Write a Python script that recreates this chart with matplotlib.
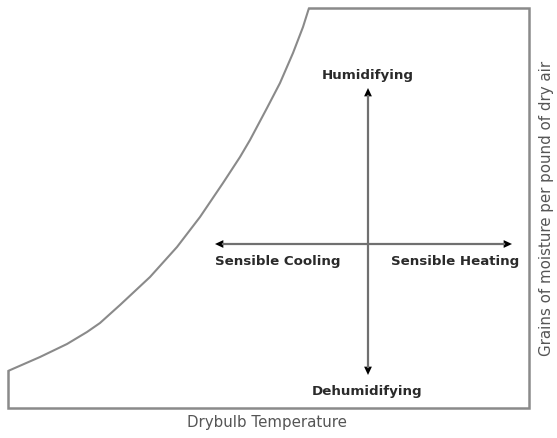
import matplotlib.pyplot as plt
from matplotlib.patches import FancyArrowPatch

# outline of the chart in pixel units (y grows downward)
curve_x = [8, 40, 67, 87, 100, 120, 150, 177, 200, 223, 240, 250, 267, 280, 293, 303, 309]
curve_y = [371, 357, 344, 332, 323, 305, 277, 247, 217, 183, 157, 140, 108, 83, 53, 27, 8]
box_x = [309, 529, 529, 8, 8]
box_y = [8, 8, 408, 408, 371]

# process arrows
h_arrow = (215, 512, 244)   # x start, x end, y
v_arrow = (375, 88, 368)    # y start, y end, x

labels = ["Humidifying", "Sensible Cooling", "Sensible Heating", "Dehumidifying"]
label_pos = [(368, 75), (278, 261), (455, 261), (367, 392)]

x_label = "Drybulb Temperature"
y_label = "Grains of moisture per pound of dry air"

fig = plt.figure(figsize=(5.57, 4.38), dpi=100)
ax = fig.add_axes([0, 0, 1, 1])
ax.set_xlim(0, 557)
ax.set_ylim(438, 0)
ax.axis("off")

line_col = "#8a8a8a"
ax.plot(curve_x, curve_y, color=line_col, lw=1.5, solid_capstyle="butt")
ax.plot(box_x, box_y, color=line_col, lw=1.8, solid_joinstyle="miter")

shaft = "#707070"
ax.plot([h_arrow[0] + 8, h_arrow[1] - 8], [h_arrow[2]] * 2, color=shaft, lw=1.6)
ax.plot([v_arrow[2]] * 2, [v_arrow[1] + 8, v_arrow[0] - 8], color=shaft, lw=1.6)
mid_x = (h_arrow[0] + h_arrow[1]) / 2
mid_y = (v_arrow[0] + v_arrow[1]) / 2
for tail, tip in [((mid_x, h_arrow[2]), (h_arrow[0], h_arrow[2])),
                  ((mid_x, h_arrow[2]), (h_arrow[1], h_arrow[2])),
                  ((v_arrow[2], mid_y), (v_arrow[2], v_arrow[0])),
                  ((v_arrow[2], mid_y), (v_arrow[2], v_arrow[1]))]:
    ax.add_patch(FancyArrowPatch(tail, tip, arrowstyle="-|>,head_length=6,head_width=2.8",
                                 color="black", lw=0, shrinkA=0, shrinkB=0))

for text, (x, y) in zip(labels, label_pos):
    ax.text(x, y, text, ha="center", va="center", fontsize=9.6,
            fontweight="bold", color="#2a2a2a", family="DejaVu Sans")

ax.text(267, 423, x_label, ha="center", va="center", fontsize=10.8,
        color="#555555", family="DejaVu Sans")
ax.text(547, 208, y_label, ha="center", va="center", rotation=90, fontsize=10.8,
        color="#555555", family="DejaVu Sans")

fig.savefig("out.png", dpi=100)
